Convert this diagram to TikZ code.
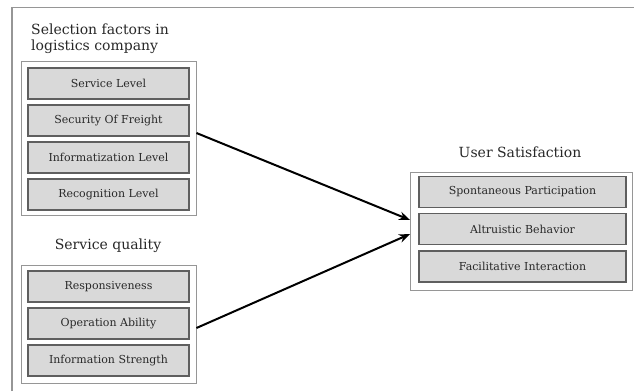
\documentclass[tikz,border=0pt]{standalone}
\usepackage{fontspec}
\setmainfont{DejaVu Serif}
\usetikzlibrary{arrows.meta}
\definecolor{itemfill}{RGB}{217,217,217}
\definecolor{itemdraw}{RGB}{95,95,95}
\definecolor{groupdraw}{RGB}{150,150,150}
\definecolor{txt}{RGB}{40,40,40}
\begin{document}
\begin{tikzpicture}[x=1pt,y=-1pt,
  itembox/.style={draw=itemdraw,fill=itemfill,line width=1.3pt,minimum width=161pt,minimum height=31pt,inner sep=0pt,font=\fontsize{11}{13}\selectfont,text=txt},
  itemboxr/.style={itembox,minimum width=207pt},
  groupbox/.style={draw=groupdraw,line width=0.9pt,inner sep=0pt},
  title/.style={font=\fontsize{14}{18}\selectfont,text=txt,inner sep=0pt},
  conn/.style={line width=2pt,-{Stealth[length=11pt,width=8.5pt]}}]
\useasboundingbox (0,0) rectangle (634,391);
\fill[white] (0,0) rectangle (634,391);
% outer frame (only top and left visible)
\draw[groupdraw,line width=1.2pt] (12,391) -- (12,7.5) -- (634,7.5);
% group 1
\node[groupbox,minimum width=175pt,minimum height=154pt] (g1) at (108.5,138) {};
\node[title,anchor=west] (t1a) at (31,29) {Selection factors in};
\node[title,anchor=west] (t1b) at (31,47) {logistics company};
\node[itembox] (a1) at (108.5,83.5) {Service Level};
\node[itembox] (a2) at (108.5,120.5) {Security Of Freight};
\node[itembox] (a3) at (108.5,157.5) {Informatization Level};
\node[itembox] (a4) at (108.5,194.5) {Recognition Level};
% group 2
\node[groupbox,minimum width=175pt,minimum height=118pt] (g2) at (108.5,324) {};
\node[title] (t2) at (108,246) {Service quality};
\node[itembox] (b1) at (108.5,286.5) {Responsiveness};
\node[itembox] (b2) at (108.5,323.5) {Operation Ability};
\node[itembox] (b3) at (108.5,360.5) {Information Strength};
% group 3
\node[groupbox,minimum width=222pt,minimum height=118pt] (g3) at (521.5,231) {};
\node[title] (t3) at (520,152) {User Satisfaction};
\node[itemboxr] (c1) at (522.5,192) {Spontaneous Participation};
\node[itemboxr] (c2) at (522.5,229) {Altruistic Behavior};
\node[itemboxr] (c3) at (522.5,266.5) {Facilitative Interaction};
% connectors
\draw[conn] ([yshift=5pt]g1.east) -- ([yshift=11pt]g3.west);
\draw[conn] ([yshift=-4pt]g2.east) -- ([yshift=-3pt]g3.west);
\end{tikzpicture}
\end{document}
